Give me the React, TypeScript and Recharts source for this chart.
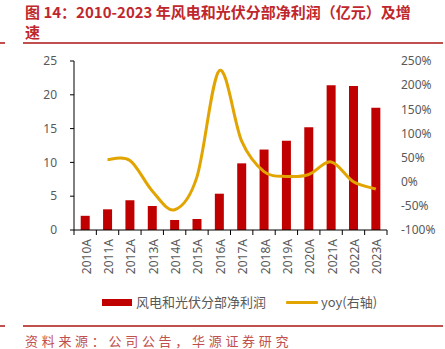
import React from 'react';
import { ComposedChart, Bar, Line, XAxis, YAxis } from 'recharts';

const categories = ['2010A','2011A','2012A','2013A','2014A','2015A','2016A','2017A','2018A','2019A','2020A','2021A','2022A','2023A'];
const profit = [2.1, 3.06, 4.4, 3.55, 1.48, 1.63, 5.37, 9.86, 11.9, 13.2, 15.2, 21.4, 21.3, 18.1];
const yoy: (number | null)[] = [null, 46, 44, -19, -58, 10, 230, 84, 21, 11, 15, 41, 0, -15];
const leftTicks = [0, 5, 10, 15, 20, 25];
const rightTicks = [-100, -50, 0, 50, 100, 150, 200, 250];

const data = categories.map((c, i) => ({ name: c, profit: profit[i], yoy: yoy[i] }));

const FONT = '"Noto Sans", "Noto Sans CJK SC", sans-serif';
const CJK = '"Noto Sans CJK SC", sans-serif';

function smoothCurve(context: any) {
  let pts: [number, number][] = [];
  return {
    areaStart() {},
    areaEnd() {},
    lineStart() { pts = []; },
    point(x: number, y: number) { pts.push([+x, +y]); },
    lineEnd() {
      const n = pts.length;
      if (!n) return;
      context.moveTo(pts[0][0], pts[0][1]);
      if (n === 1) return;
      for (let i = 0; i < n - 1; i++) {
        const p0 = pts[Math.max(0, i - 1)];
        const p1 = pts[i];
        const p2 = pts[i + 1];
        const p3 = pts[Math.min(n - 1, i + 2)];
        const c1x = p1[0] + (p2[0] - p0[0]) / 6;
        const c1y = p1[1] + (p2[1] - p0[1]) / 6;
        const c2x = p2[0] - (p3[0] - p1[0]) / 6;
        const c2y = p2[1] - (p3[1] - p1[1]) / 6;
        context.bezierCurveTo(c1x, c1y, c2x, c2y, p2[0], p2[1]);
      }
    },
  };
}

const XTick = (props: any) => {
  const { x, y, payload, index } = props;
  const half = payload && typeof payload.offset === 'number' && payload.offset > 0 ? payload.offset : 11.18;
  const last = index === categories.length - 1;
  return (
    <g>
      <line x1={x - half} x2={x - half} y1={y - 8} y2={y - 3} stroke="#000" strokeWidth={1} />
      {last && <line x1={x + half} x2={x + half} y1={y - 8} y2={y - 3} stroke="#000" strokeWidth={1} />}
      <text
        transform={`translate(${x + 1},${y + 1}) rotate(-90)`}
        textAnchor="end"
        dominantBaseline="central"
        fontSize={12}
        fill="#595959"
        fontFamily={FONT}
      >
        {payload.value}
      </text>
    </g>
  );
};

export default function App() {
  return (
    <div style={{ position: 'absolute', left: 0, top: 0, width: 445, height: 349, background: '#fff', overflow: 'hidden' }}>
      <div style={{ position: 'absolute', left: 25, top: 2, fontFamily: CJK, fontWeight: 700, fontSize: 15, color: '#C0272D', lineHeight: '20px', whiteSpace: 'nowrap' }}>
        图 14：2010-2023 年风电和光伏分部净利润（亿元）及增
      </div>
      <div style={{ position: 'absolute', left: 25, top: 22, fontFamily: CJK, fontWeight: 700, fontSize: 15, color: '#C0272D', lineHeight: '20px' }}>
        速
      </div>
      <div style={{ position: 'absolute', left: 0, top: 42, width: 5, height: 1.5, background: '#C0504D' }} />
      <div style={{ position: 'absolute', left: 23, top: 42, width: 420, height: 1.5, background: '#C0504D' }} />

      <div style={{ position: 'absolute', left: 0, top: 0 }}>
        <ComposedChart width={445} height={349} data={data} margin={{ top: 61, right: 0, bottom: 0, left: 0 }} barCategoryGap="30%">
          <XAxis
            dataKey="name"
            height={119}
            interval={0}
            tickLine={false}
            axisLine={{ stroke: '#000', strokeWidth: 1 }}
            tick={<XTick />}
            tickMargin={0}
            tickSize={8}
          />
          <YAxis
            yAxisId="left"
            width={74}
            domain={[0, 25]}
            ticks={leftTicks}
            interval={0}
            tickSize={4}
            tickMargin={13}
            axisLine={{ stroke: '#000', strokeWidth: 1 }}
            tickLine={{ stroke: '#000', strokeWidth: 1 }}
            tick={{ fontSize: 12, fill: '#595959', fontFamily: FONT }}
          />
          <YAxis
            yAxisId="right"
            orientation="right"
            width={58}
            domain={[-100, 250]}
            ticks={rightTicks}
            interval={0}
            tickSize={6}
            tickMargin={8}
            axisLine={false}
            tickLine={false}
            tickFormatter={(v: number) => `${v}%`}
            tick={{ fontSize: 12, fill: '#595959', fontFamily: FONT, textAnchor: 'start' }}
          />
          <Bar yAxisId="left" dataKey="profit" fill="#C00000" isAnimationActive={false} />
          <Line
            yAxisId="right"
            dataKey="yoy"
            type={smoothCurve as any}
            stroke="#E2A400"
            strokeWidth={3}
            dot={false}
            activeDot={false}
            isAnimationActive={false}
          />
        </ComposedChart>
      </div>

      <div style={{ position: 'absolute', left: 102, top: 299, width: 30, height: 7, background: '#C00000' }} />
      <div style={{ position: 'absolute', left: 136, top: 293, fontFamily: CJK, fontSize: 13, color: '#595959', lineHeight: '18px', whiteSpace: 'nowrap' }}>
        风电和光伏分部净利润
      </div>
      <div style={{ position: 'absolute', left: 286, top: 301, width: 32, height: 3, background: '#E2A400', borderRadius: 1 }} />
      <div style={{ position: 'absolute', left: 321, top: 293, fontFamily: CJK, fontSize: 13, color: '#595959', lineHeight: '18px', whiteSpace: 'nowrap' }}>
        yoy(右轴)
      </div>

      <div style={{ position: 'absolute', left: 0, top: 325, width: 5, height: 1.5, background: '#C0504D' }} />
      <div style={{ position: 'absolute', left: 23, top: 325, width: 420, height: 1.5, background: '#C0504D' }} />
      <div style={{ position: 'absolute', left: 25, top: 334, fontFamily: CJK, fontSize: 13, color: '#C0504D', lineHeight: '14px', letterSpacing: '3.7px', whiteSpace: 'nowrap' }}>
        资料来源：公司公告，华源证券研究
      </div>
    </div>
  );
}
